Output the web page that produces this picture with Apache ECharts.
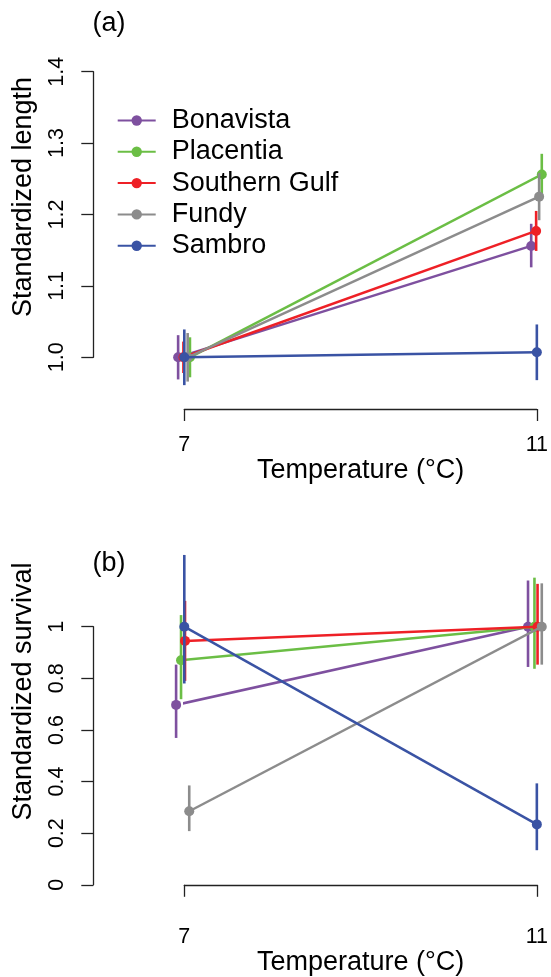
<!DOCTYPE html>
<html>
<head>
<meta charset="utf-8">
<style>
  html, body { margin: 0; padding: 0; background: #fff; }
  #chart { width: 551px; height: 977px; }
</style>
<script src="https://cdn.jsdelivr.net/npm/echarts@6/dist/echarts.min.js"></script>
</head>
<body>
<div id="chart"></div>
<script>
// Populations and their colours
const populations = ['Bonavista', 'Placentia', 'Southern Gulf', 'Fundy', 'Sambro'];
const popColors = ['#7E509F', '#6BBE45', '#EE2026', '#8C8C8C', '#3A53A4'];

// Rearing temperatures (°C)
const temps = [7, 11];

// Horizontal dodge (°C) applied to each population so bars don't overlap
const lengthDodge = [[-0.07, -0.064], [0.064, 0.056], [-0.01, -0.008], [0.038, 0.026], [0.0, 0.0]];
const survivalDodge = [[-0.093, -0.10], [-0.037, -0.027], [0.008, 0.008], [0.056, 0.056], [0.0, 0.0]];

// (a) standardized length: mean and interval bounds at 7 and 11 °C
const lengthMean = [[1.0, 1.156], [1.0, 1.256], [1.0, 1.177], [1.0, 1.225], [1.0, 1.007]];
const lengthLow  = [[0.969, 1.126], [0.972, 1.227], [0.978, 1.149], [0.966, 1.192], [0.961, 0.968]];
const lengthHigh = [[1.031, 1.187], [1.028, 1.285], [1.022, 1.205], [1.034, 1.258], [1.039, 1.046]];

// (b) standardized survival: mean and interval bounds at 7 and 11 °C
const survivalMean = [[0.697, 1.0], [0.870, 1.0], [0.945, 1.0], [0.285, 1.0], [1.0, 0.234]];
const survivalLow  = [[0.569, 0.844], [0.719, 0.837], [0.790, 0.853], [0.208, 0.853], [0.780, 0.134]];
const survivalHigh = [[0.853, 1.179], [1.045, 1.190], [1.100, 1.166], [0.385, 1.168], [1.278, 0.393]];

// Axis ticks
const tempTicks = [7, 11];
const lengthTicks = { min: 1.0, max: 1.4, step: 0.1 };
const survivalTicks = { min: 0, max: 1, step: 0.2 };

const FONT = '"Liberation Sans", Arial, Helvetica, sans-serif';
const AXIS_COLOR = '#222';
const TITLE_SIZE = 27;
const TICK_SIZE = 21.5;

const chart = echarts.init(document.getElementById('chart'), null, { renderer: 'canvas' });

function xAxisFor(gridIndex, offset) {
  return {
    type: 'value', gridIndex, min: temps[0], max: temps[temps.length - 1], offset,
    name: 'Temperature (°C)', nameLocation: 'middle', nameGap: 44,
    nameTextStyle: { fontFamily: FONT, fontSize: TITLE_SIZE, color: '#000' },
    axisLine: { show: true, lineStyle: { color: AXIS_COLOR, width: 1.3 } },
    axisTick: { show: true, length: 12, customValues: tempTicks, lineStyle: { color: AXIS_COLOR, width: 1.3 } },
    axisLabel: { customValues: tempTicks, fontFamily: FONT, fontSize: TICK_SIZE, color: '#000', margin: 25 },
    splitLine: { show: false }
  };
}

function yAxisFor(gridIndex, ticks, formatter) {
  return {
    type: 'value', gridIndex, min: ticks.min, max: ticks.max, interval: ticks.step, offset: 91,
    axisLine: { show: true, lineStyle: { color: AXIS_COLOR, width: 1.3 } },
    axisTick: { show: true, length: 12, lineStyle: { color: AXIS_COLOR, width: 1.3 } },
    axisLabel: { rotate: 90, fontFamily: FONT, fontSize: TICK_SIZE, color: '#000', margin: 25, formatter },
    splitLine: { show: false }
  };
}

const lineSeries = [];
const barSeries = [];

function addPanel(gridIndex, mean, low, high, dodge) {
  populations.forEach((name, i) => {
    const xs = temps.map((t, j) => t + dodge[i][j]);
    lineSeries.push({
      type: 'line', name, xAxisIndex: gridIndex, yAxisIndex: gridIndex,
      data: xs.map((x, j) => [x, mean[i][j]]),
      symbol: 'circle', symbolSize: 10, showSymbol: true, clip: false,
      lineStyle: { color: popColors[i], width: 2.5 },
      itemStyle: { color: popColors[i] },
      z: 10 + 2 * i, silent: true
    });
    barSeries.push({
      type: 'custom', name, xAxisIndex: gridIndex, yAxisIndex: gridIndex,
      data: xs.map((x, j) => [x, low[i][j], high[i][j]]),
      encode: { x: 0, y: [1, 2] }, clip: false, silent: true,
      z: 11 + 2 * i,
      renderItem: (params, api) => {
        const p0 = api.coord([api.value(0), api.value(1)]);
        const p1 = api.coord([api.value(0), api.value(2)]);
        return {
          type: 'line',
          shape: { x1: p0[0], y1: p0[1], x2: p1[0], y2: p1[1] },
          style: { stroke: popColors[i], lineWidth: 2.6 }
        };
      }
    });
  });
}

addPanel(0, lengthMean, lengthLow, lengthHigh, lengthDodge);
addPanel(1, survivalMean, survivalLow, survivalHigh, survivalDodge);

const option = {
  animation: false,
  backgroundColor: '#fff',
  grid: [
    { left: 184.3, right: 9.3, top: 71.7, height: 285.6 },
    { left: 184.3, right: 9.3, top: 626.7, height: 261 }
  ],
  xAxis: [xAxisFor(0, 51.7), xAxisFor(1, 16.3)],
  yAxis: [
    yAxisFor(0, lengthTicks, v => v.toFixed(1)),
    yAxisFor(1, survivalTicks, v => String(+v.toFixed(1)))
  ],
  legend: {
    data: populations,
    orient: 'vertical', left: 116.7, top: 107, padding: 0,
    itemWidth: 38, itemHeight: 13, itemGap: 4.3,
    selectedMode: false,
    textStyle: { fontFamily: FONT, fontSize: TITLE_SIZE, lineHeight: 27, color: '#000', padding: [0, 0, 0, 11] }
  },
  graphic: [
    { type: 'text', x: 109, y: 24, style: { text: '(a)', fontFamily: FONT, fontSize: TITLE_SIZE, fill: '#000', align: 'center', verticalAlign: 'middle' } },
    { type: 'text', x: 109, y: 564, style: { text: '(b)', fontFamily: FONT, fontSize: TITLE_SIZE, fill: '#000', align: 'center', verticalAlign: 'middle' } },
    { type: 'text', x: 24, y: 197, rotation: Math.PI / 2, style: { text: 'Standardized length', fontFamily: FONT, fontSize: TITLE_SIZE, fill: '#000', align: 'center', verticalAlign: 'middle' } },
    { type: 'text', x: 24, y: 691.5, rotation: Math.PI / 2, style: { text: 'Standardized survival', fontFamily: FONT, fontSize: TITLE_SIZE, fill: '#000', align: 'center', verticalAlign: 'middle' } }
  ],
  series: lineSeries.concat(barSeries)
};

chart.setOption(option);
</script>
</body>
</html>
